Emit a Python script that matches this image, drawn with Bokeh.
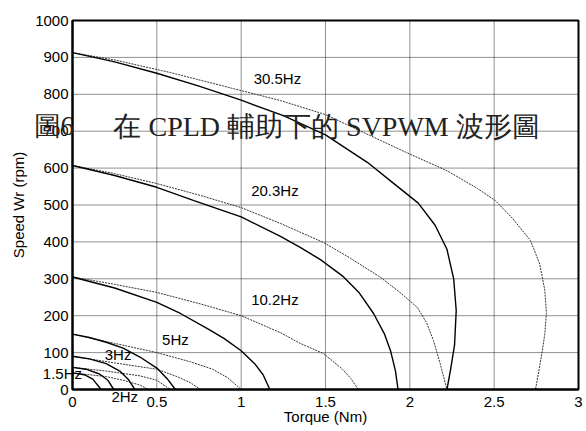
from bokeh.plotting import figure
from bokeh.models import FixedTicker, Label, Range1d, LinearAxis
from bokeh.embed import file_html
from bokeh.resources import INLINE

# ---- data (torque in Nm, speed in rpm) ----
# solid curves
t_s_305 = [0, 0.25, 0.5, 0.75, 1.0, 1.25, 1.5, 1.75, 1.9, 2.05, 2.15, 2.22, 2.26, 2.275, 2.265, 2.24, 2.22]
w_s_305 = [913, 888, 857, 822, 784, 742, 690, 615, 560, 505, 445, 380, 300, 214, 120, 50, 0]
t_s_203 = [0, 0.25, 0.5, 0.72, 1.0, 1.233, 1.35, 1.47, 1.6, 1.7, 1.785, 1.85, 1.885, 1.915, 1.93]
w_s_203 = [607, 580, 548, 512, 468, 415, 385, 352, 308, 262, 206, 150, 106, 50, 0]
t_s_102 = [0, 0.25, 0.5, 0.64, 0.8, 0.9, 1.0, 1.08, 1.13, 1.17]
w_s_102 = [305, 275, 236, 206, 165, 138, 105, 70, 40, 0]
t_s_5 = [0, 0.1, 0.2, 0.3, 0.4, 0.5, 0.56, 0.61]
w_s_5 = [150, 141, 128, 112, 88, 58, 30, 0]
t_s_3 = [0, 0.1, 0.2, 0.28, 0.33, 0.37]
w_s_3 = [90, 83, 70, 50, 28, 0]
t_s_2 = [0, 0.08, 0.16, 0.21, 0.245]
w_s_2 = [60, 55, 42, 25, 0]
t_s_15 = [0, 0.07, 0.12, 0.17]
w_s_15 = [45, 40, 28, 0]

# dotted curves
t_d_305 = [0, 0.25, 0.58, 1.0, 1.233, 1.5, 1.826, 2.0, 2.22, 2.4, 2.507, 2.61, 2.715, 2.77, 2.8, 2.81, 2.8, 2.786, 2.765, 2.745]
w_d_305 = [913, 893, 859, 810, 783, 745, 675, 638, 593, 545, 512, 463, 404, 340, 270, 206, 150, 106, 50, 0]
t_d_203 = [0, 0.25, 0.5, 0.75, 1.0, 1.233, 1.49, 1.65, 1.826, 1.95, 2.045, 2.1, 2.14, 2.18, 2.22]
w_d_203 = [607, 585, 558, 527, 493, 450, 398, 355, 304, 260, 222, 180, 133, 70, 0]
t_d_102 = [0, 0.25, 0.5, 0.75, 1.0, 1.233, 1.35, 1.49, 1.6, 1.65, 1.695]
w_d_102 = [305, 285, 263, 233, 200, 154, 125, 97, 55, 30, 0]
t_d_5 = [0, 0.25, 0.5, 0.7, 0.83, 0.92, 1.0]
w_d_5 = [150, 125, 100, 75, 55, 32, 0]
t_d_3 = [0, 0.25, 0.5, 0.62, 0.7, 0.76]
w_d_3 = [90, 72, 55, 35, 18, 0]
t_d_2 = [0, 0.2, 0.4, 0.5, 0.58]
w_d_2 = [60, 50, 37, 25, 0]
t_d_15 = [0, 0.2, 0.3, 0.4, 0.45]
w_d_15 = [45, 35, 25, 12, 0]

freq_labels = ["30.5Hz", "20.3Hz", "10.2Hz", "5Hz", "3Hz", "1.5Hz", "2Hz"]
x_ticks = [0, 0.5, 1, 1.5, 2, 2.5, 3]
x_tick_labels = ["0", "0.5", "1", "1.5", "2", "2.5", "3"]
y_ticks = [0, 100, 200, 300, 400, 500, 600, 700, 800, 900, 1000]
y_tick_labels = [str(v) for v in y_ticks]
overlay_text = ["圖6", "在 CPLD 輔助下的 SVPWM 波形圖"]

FONT = "Liberation Sans"
W, H = 586, 431
# plot box in page pixels: left 72, right 578, top 20, bottom 389
px_per_x = (578 - 72) / (x_ticks[-1] - x_ticks[0])
px_per_y = (389 - 20) / (y_ticks[-1] - y_ticks[0])
x_rng = Range1d(x_ticks[0] - 72 / px_per_x, x_ticks[-1] + (W - 578) / px_per_x)
y_rng = Range1d(y_ticks[0] - (H - 389) / px_per_y, y_ticks[-1] + 20 / px_per_y)

p = figure(width=W, height=H, output_backend="svg", toolbar_location=None,
           x_range=x_rng, y_range=y_rng, x_axis_location=None, y_axis_location=None,
           min_border=0, min_border_left=0, min_border_right=0, min_border_top=0, min_border_bottom=0)
p.background_fill_color = "white"
p.border_fill_color = "white"
p.outline_line_color = None
p.xgrid.visible = False
p.ygrid.visible = False

# dotted grid, bounded to the axes box
p.segment(x0=x_ticks, y0=[y_ticks[0]] * len(x_ticks), x1=x_ticks, y1=[y_ticks[-1]] * len(x_ticks),
          line_color="#222222", line_dash="1 1", line_width=1)
p.segment(x0=[x_ticks[0]] * len(y_ticks), y0=y_ticks, x1=[x_ticks[-1]] * len(y_ticks), y1=y_ticks,
          line_color="#222222", line_dash="1 1", line_width=1)

dotted = [(t_d_305, w_d_305), (t_d_203, w_d_203), (t_d_102, w_d_102), (t_d_5, w_d_5),
          (t_d_3, w_d_3), (t_d_2, w_d_2), (t_d_15, w_d_15)]
solid = [(t_s_305, w_s_305), (t_s_203, w_s_203), (t_s_102, w_s_102), (t_s_5, w_s_5),
         (t_s_3, w_s_3), (t_s_2, w_s_2), (t_s_15, w_s_15)]
for xs, ys in dotted:
    p.line(xs, ys, line_color="#333333", line_width=1, line_dash="2 1")
for xs, ys in solid:
    p.line(xs, ys, line_color="black", line_width=1.4)

# box
p.quad(left=x_ticks[0], right=x_ticks[-1], bottom=y_ticks[0], top=y_ticks[-1],
       fill_color=None, line_color="black", line_width=2)

xaxis = LinearAxis(fixed_location=y_ticks[0], bounds=(x_ticks[0], x_ticks[-1]),
                   ticker=FixedTicker(ticks=x_ticks), axis_label="Torque (Nm)")
yaxis = LinearAxis(fixed_location=x_ticks[0], bounds=(y_ticks[0], y_ticks[-1]),
                   ticker=FixedTicker(ticks=y_ticks), axis_label="Speed Wr (rpm)")
xaxis.major_label_overrides = {t: l for t, l in zip(x_ticks, x_tick_labels)}
yaxis.major_label_overrides = {t: l for t, l in zip(y_ticks, y_tick_labels)}
for ax in (xaxis, yaxis):
    ax.axis_line_width = 2
    ax.axis_line_color = "black"
    ax.major_tick_out = 0
    ax.major_tick_in = 0
    ax.minor_tick_out = 0
    ax.minor_tick_in = 0
    ax.major_label_text_font = FONT
    ax.major_label_text_font_size = "15px"
    ax.major_label_text_color = "black"
    ax.axis_label_text_font = FONT
    ax.axis_label_text_font_size = "15px"
    ax.axis_label_text_font_style = "normal"
    ax.axis_label_text_color = "black"
xaxis.major_label_standoff = 7
yaxis.major_label_standoff = 4
xaxis.axis_label_standoff = -2
yaxis.axis_label_standoff = 5
p.add_layout(xaxis, "below")
p.add_layout(yaxis, "left")

label_pos = [(1.215, 843), (1.2, 539), (1.2, 244), (0.61, 135), (0.27, 95), (-0.06, 43), (0.31, -19)]
for txt, (lx, ly) in zip(freq_labels, label_pos):
    p.add_layout(Label(x=lx, y=ly, text=txt, text_font=FONT, text_font_size="15px",
                       text_align="center", text_baseline="middle", text_color="black"))

p.add_layout(Label(x=-0.231, y=713, text=overlay_text[0], text_font="Liberation Serif",
                   text_font_size="27px", text_align="left", text_baseline="middle", text_color="#222222"))
p.add_layout(Label(x=0.243, y=713, text=overlay_text[1], text_font="Liberation Serif",
                   text_font_size="28px", text_align="left", text_baseline="middle", text_color="#222222"))

open("out.html", "w").write(file_html(p, INLINE))
